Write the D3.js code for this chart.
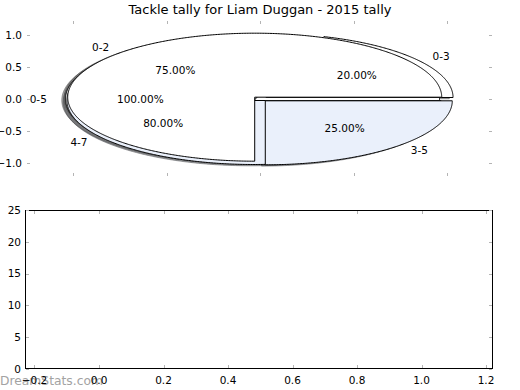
<!DOCTYPE html>
<html><head><meta charset="utf-8">
<script src="https://cdn.jsdelivr.net/npm/d3@7"></script>
<style>body{margin:0;background:#fff}svg{display:block;font-family:"DejaVu Sans",sans-serif}</style>
</head><body><svg id="c" width="520" height="390"></svg>
<script>
// ---- data ----
const titleText = "Tackle tally for Liam Duggan - 2015 tally";
const pie1Labels = ["0-5"];          const pie1Values = [100];
const pie2Labels = ["0-2", "3-5"];   const pie2Values = [75, 25];
const pie3Labels = ["0-3", "4-7"];   const pie3Values = [20, 80];
const wedgeColors = ["#ffffff", "#eaf0fb"];
const explodeBy = 0.04;
const pieTicksX = [-1, -0.5, 0, 0.5, 1];
const pieTicksY = [-1, -0.5, 0, 0.5, 1];
const barTicksX = [-0.2, 0, 0.2, 0.4, 0.6, 0.8, 1.0, 1.2];
const barTicksY = [0, 5, 10, 15, 20, 25];
const watermarkText = "DreamStats.com";

// draw order of the pies (as stacked in the reference)
const pies = [
  {labels: pie1Labels, values: pie1Values},
  {labels: pie3Labels, values: pie3Values},
  {labels: pie2Labels, values: pie2Values}
];

const svg = d3.select("#c");
const TICK = "#b4b4b4";

// ---- top (pie) axes ----
const box1 = {l: 27, r: 492, t: 21, b: 176};
const xP = d3.scaleLinear().domain([-1, 1]).range([73, 447]);
const yP = d3.scaleLinear().domain([-1, 1]).range([163, 35]);

const line = d3.line().x(d => xP(d[0])).y(d => yP(d[1]));
const pieGen = d3.pie().sort(null).startAngle(0).endAngle(2 * Math.PI);

function wedgePts(cx, cy, a0, a1) {
  const full = Math.abs(a1 - a0 - 2 * Math.PI) < 1e-9;
  const n = Math.max(2, Math.ceil((a1 - a0) / (Math.PI / 360)));
  const arc = d3.range(n + 1).map(i => {
    const a = a0 + (a1 - a0) * i / n;
    return [cx + Math.cos(a), cy + Math.sin(a)];
  });
  return full ? arc : [[cx, cy], ...arc];
}

const wedges = [];
pies.forEach(p => {
  pieGen(p.values).forEach((d, i) => {
    const am = (d.startAngle + d.endAngle) / 2;
    const cx = explodeBy * Math.cos(am), cy = explodeBy * Math.sin(am);
    wedges.push({
      a0: d.startAngle, a1: d.endAngle, am, cx, cy,
      color: wedgeColors[i % wedgeColors.length],
      label: p.labels[i],
      pct: d3.format(".2f")(100 * (d.endAngle - d.startAngle) / (2 * Math.PI)) + "%"
    });
  });
});

// shadows (below all wedges)
const gSh = svg.append("g");
wedges.forEach(w => {
  const c = d3.rgb(w.color);
  const sc = d3.rgb(c.r * 0.3, c.g * 0.3, c.b * 0.3);
  gSh.append("path")
    .attr("d", line(wedgePts(w.cx - 0.02, w.cy - 0.02, w.a0, w.a1)) + "Z")
    .attr("fill", sc).attr("fill-opacity", 0.5)
    .attr("stroke", sc).attr("stroke-opacity", 0.5).attr("stroke-width", 1);
});
// wedges
const gW = svg.append("g");
wedges.forEach(w => {
  gW.append("path")
    .attr("d", line(wedgePts(w.cx, w.cy, w.a0, w.a1)) + "Z")
    .attr("fill", w.color).attr("stroke", "#000").attr("stroke-width", 1)
    .attr("stroke-linejoin", "round");
});
// texts
const gT = svg.append("g").attr("font-size", "10.5px").attr("fill", "#000");
wedges.forEach(w => {
  const xt = w.cx + 1.1 * Math.cos(w.am), yt = w.cy + 1.1 * Math.sin(w.am);
  gT.append("text").attr("x", xP(xt)).attr("y", yP(yt)).attr("dy", "0.36em")
    .attr("text-anchor", xt > 0 ? "start" : "end").text(w.label);
  const xp = w.cx + 0.6 * Math.cos(w.am), yp = w.cy + 0.6 * Math.sin(w.am);
  gT.append("text").attr("x", xP(xp)).attr("y", yP(yp)).attr("dy", "0.36em")
    .attr("text-anchor", "middle").text(w.pct);
});

// pie axes ticks (frame hidden)
const gA1 = svg.append("g").attr("stroke", TICK).attr("stroke-width", 1).attr("shape-rendering", "crispEdges");
pieTicksX.forEach(t => {
  const x = Math.round(xP(t)) + 0.5;
  gA1.append("line").attr("x1", x).attr("x2", x).attr("y1", box1.t).attr("y2", box1.t + 3);
  gA1.append("line").attr("x1", x).attr("x2", x).attr("y1", box1.b).attr("y2", box1.b - 3);
});
pieTicksY.forEach(t => {
  const y = Math.round(yP(t)) + 0.5;
  gA1.append("line").attr("x1", box1.l).attr("x2", box1.l + 3).attr("y1", y).attr("y2", y);
  gA1.append("line").attr("x1", box1.r).attr("x2", box1.r - 3).attr("y1", y).attr("y2", y);
});
const fmt1 = d3.format(".1f");
svg.append("g").attr("font-size", "10.5px").selectAll("text").data(pieTicksY).join("text")
  .attr("x", box1.l - 5).attr("y", d => yP(d)).attr("dy", "0.36em")
  .attr("text-anchor", "end").text(d => fmt1(d));

// title
svg.append("text").attr("x", 260).attr("y", 14).attr("text-anchor", "middle")
  .attr("font-size", "13px").text(titleText);

// ---- bottom axes ----
const box2 = {l: 25, r: 493, t: 210, b: 369};
const xB = d3.scaleLinear().domain([0, 1]).range([99, 421.5]);
const yB = d3.scaleLinear().domain([0, 25]).range([box2.b, box2.t]);

// watermark
svg.append("text").attr("x", 0).attr("y", 385).attr("font-size", "12.3px")
  .attr("fill", "#a3a3a3").text(watermarkText);

svg.append("rect").attr("x", box2.l + 0.5).attr("y", box2.t + 0.5)
  .attr("width", box2.r - box2.l - 1).attr("height", box2.b - box2.t - 1)
  .attr("fill", "none").attr("stroke", "#000").attr("stroke-width", 1);

const gA2 = svg.append("g").attr("stroke", TICK).attr("stroke-width", 1).attr("shape-rendering", "crispEdges");
barTicksX.forEach(t => {
  const x = Math.round(xB(t)) + 0.5;
  gA2.append("line").attr("x1", x).attr("x2", x).attr("y1", box2.t + 1).attr("y2", box2.t + 4);
  gA2.append("line").attr("x1", x).attr("x2", x).attr("y1", box2.b - 1).attr("y2", box2.b - 4);
});
barTicksY.forEach(t => {
  const y = Math.round(yB(t)) + 0.5;
  gA2.append("line").attr("x1", box2.l + 1).attr("x2", box2.l + 4).attr("y1", y).attr("y2", y);
  gA2.append("line").attr("x1", box2.r - 1).attr("x2", box2.r - 4).attr("y1", y).attr("y2", y);
});
svg.append("g").attr("font-size", "10.5px").selectAll("text").data(barTicksY).join("text")
  .attr("x", box2.l - 4).attr("y", d => yB(d)).attr("dy", "0.36em")
  .attr("text-anchor", "end").text(d => d3.format("d")(d));
svg.append("g").attr("font-size", "10.5px").selectAll("text").data(barTicksX).join("text")
  .attr("x", d => xB(d)).attr("y", box2.b + 11).attr("dy", "0.36em")
  .attr("text-anchor", "middle").text(d => fmt1(d));
</script></body></html>
